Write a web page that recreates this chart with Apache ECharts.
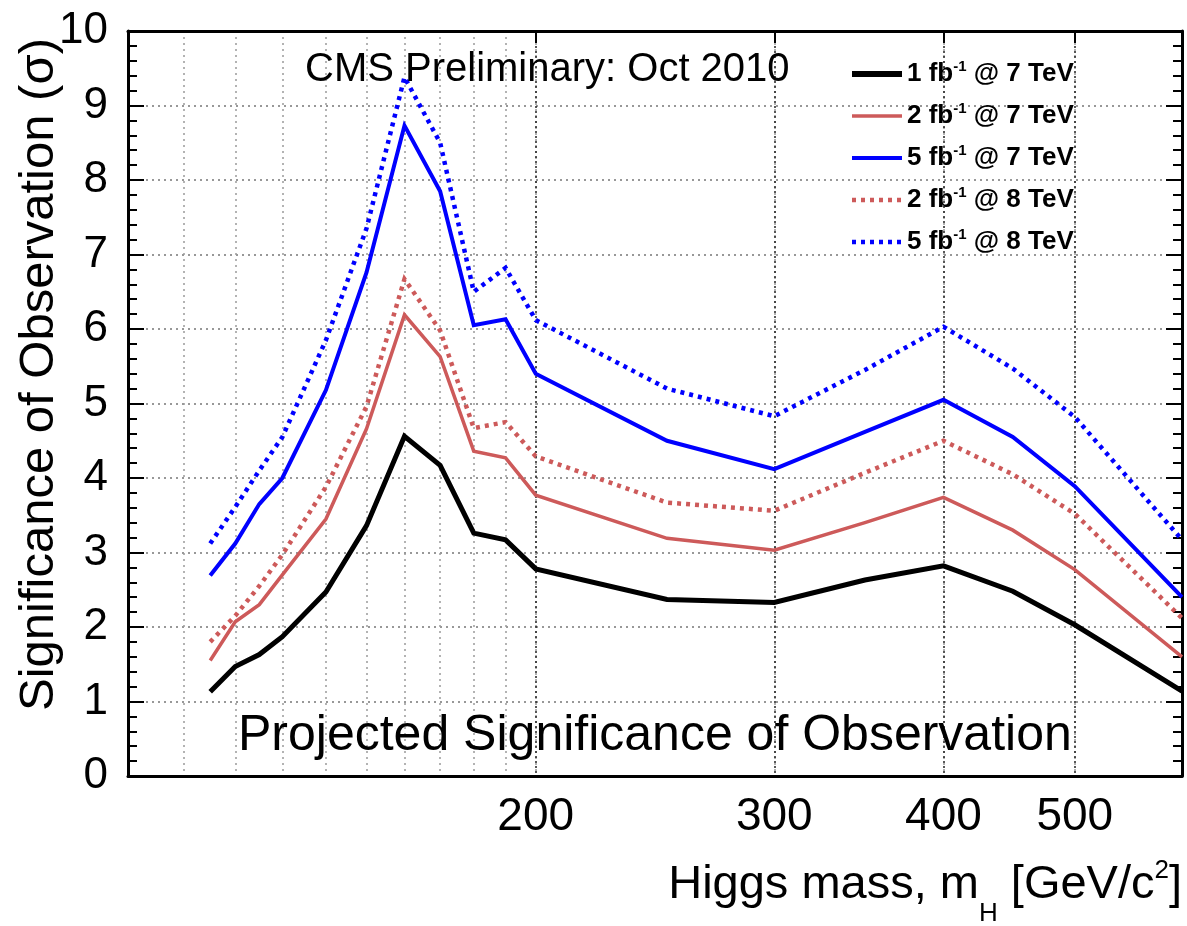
<!DOCTYPE html>
<html>
<head>
<meta charset="utf-8">
<script src="https://cdn.jsdelivr.net/npm/echarts@6/dist/echarts.min.js"></script>
<style>
  html, body { margin: 0; padding: 0; background: #fff; }
  #chart { width: 1187px; height: 926px; }
</style>
</head>
<body>
<div id="chart"></div>
<script>
// ---- Data ----
const masses = [115, 120, 125, 130, 140, 150, 160, 170, 180, 190, 200, 250, 300, 350, 400, 450, 500, 600];
const sig1fb7TeV = [1.13, 1.47, 1.63, 1.87, 2.47, 3.36, 4.56, 4.17, 3.26, 3.17, 2.78, 2.37, 2.33, 2.63, 2.82, 2.48, 2.03, 1.14];
const sig2fb7TeV = [1.55, 2.07, 2.30, 2.70, 3.45, 4.66, 6.19, 5.63, 4.36, 4.27, 3.77, 3.19, 3.03, 3.40, 3.74, 3.30, 2.77, 1.60];
const sig5fb7TeV = [2.69, 3.12, 3.65, 4.00, 5.18, 6.76, 8.73, 7.85, 6.05, 6.13, 5.40, 4.50, 4.12, 4.62, 5.05, 4.55, 3.89, 2.40];
const sig2fb8TeV = [1.80, 2.15, 2.55, 2.97, 3.88, 4.96, 6.67, 5.98, 4.67, 4.75, 4.29, 3.67, 3.56, 4.07, 4.50, 4.05, 3.52, 2.12];
const sig5fb8TeV = [3.12, 3.61, 4.10, 4.55, 5.85, 7.35, 9.38, 8.50, 6.50, 6.82, 6.12, 5.20, 4.83, 5.45, 6.03, 5.47, 4.82, 3.17];

const lumis = [1, 2, 5, 2, 5];
const energies = [7, 7, 7, 8, 8];
const seriesValues = [sig1fb7TeV, sig2fb7TeV, sig5fb7TeV, sig2fb8TeV, sig5fb8TeV];

const xGridValues = [110, 120, 130, 140, 150, 160, 170, 180, 190, 200, 300, 400, 500];
const xLabelValues = [200, 300, 400, 500];

// ---- Styles ----
const FONT = 'Liberation Sans';
const colors = ['#000000', '#cd5a5a', '#0000ff', '#cd5a5a', '#0000ff'];
const widths = [5, 3.5, 4, 4.5, 4.5];
const types = ['solid', 'solid', 'solid', [4, 5], [4, 5]];

const names = lumis.map((l, i) => l + ' fb-1 @ ' + energies[i] + ' TeV');

const series = seriesValues.map((vals, i) => ({
  name: names[i],
  type: 'line',
  xAxisIndex: 0,
  yAxisIndex: 0,
  symbol: 'none',
  showSymbol: false,
  smooth: false,
  animation: false,
  lineStyle: { color: colors[i], width: widths[i], type: types[i], cap: 'butt', join: 'miter' },
  itemStyle: { color: colors[i] },
  z: 10 - i,
  data: masses.map((m, k) => [m, vals[k]])
}));

const chart = echarts.init(document.getElementById('chart'), null, { renderer: 'canvas' });

const option = {
  backgroundColor: '#ffffff',
  animation: false,
  grid: { left: 128, right: 5, top: 31, bottom: 150, containLabel: false, outerBoundsMode: 'none' },
  legend: {
    orient: 'vertical',
    left: 849,
    top: 59,
    itemWidth: 50,
    itemHeight: 14,
    itemGap: 12,
    padding: 0,
    itemStyle: { opacity: 0 },
    data: names.map((n, i) => ({
      name: n,
      itemStyle: { opacity: 0 },
      lineStyle: { color: colors[i], width: i === 0 ? 6 : widths[i], type: types[i], cap: 'butt' }
    })),
    formatter: function (name) {
      const i = names.indexOf(name);
      return '{n|' + lumis[i] + ' fb}{s|-1}{n| @ ' + energies[i] + ' TeV}';
    },
    textStyle: {
      fontFamily: FONT, fontWeight: 'bold', fontSize: 26, color: '#000',
      rich: {
        n: { fontFamily: FONT, fontWeight: 'bold', fontSize: 26, lineHeight: 30, color: '#000' },
        s: { fontFamily: FONT, fontWeight: 'bold', fontSize: 15, lineHeight: 15, color: '#000', padding: [0, 0, 15, 0] }
      }
    }
  },
  xAxis: [
    {
      type: 'log', logBase: 10, min: 100, max: 600, position: 'bottom',
      axisLine: { show: true, onZero: false, lineStyle: { color: '#000', width: 3 } },
      axisTick: { show: false, customValues: xGridValues },
      axisLabel: { show: true, customValues: xLabelValues, fontFamily: FONT, fontSize: 46, color: '#000', margin: 18 },
      splitLine: { show: true, lineStyle: { color: '#9a9a9a', width: 1.5, type: [2, 4] } },
      name: '{a|Higgs mass, m}{sub|H}{a| [GeV/c}{sup|2}{a|]}',
      nameLocation: 'end',
      nameGap: 0,
      nameMoveOverlap: false,
      nameTextStyle: {
        align: 'right', verticalAlign: 'top', padding: [86, 0, 0, 0],
        fontFamily: FONT, fontSize: 47, color: '#000',
        rich: {
          a: { fontFamily: FONT, fontSize: 47, lineHeight: 47, color: '#000' },
          sub: { fontFamily: FONT, fontSize: 26, lineHeight: 26, color: '#000', padding: [56, 0, 0, 0] },
          sup: { fontFamily: FONT, fontSize: 26, lineHeight: 26, color: '#000', padding: [0, 0, 29, 0] }
        }
      }
    },
    {
      type: 'log', logBase: 10, min: 100, max: 600, position: 'top',
      axisLine: { show: true, onZero: false, lineStyle: { color: '#000', width: 3 } },
      axisTick: { show: true, inside: true, length: 12, customValues: xLabelValues, lineStyle: { color: '#000', width: 2 } },
      axisLabel: { show: false },
      splitLine: { show: true, lineStyle: { color: '#222', width: 1.5, type: [2, 3] } }
    }
  ],
  yAxis: [
    {
      type: 'value', min: 0, max: 10, interval: 1, position: 'left',
      axisLine: { show: true, onZero: false, lineStyle: { color: '#000', width: 3 } },
      axisTick: { show: true, inside: true, length: 16, lineStyle: { color: '#000', width: 2 } },
      minorTick: { show: true, splitNumber: 5, length: 9, lineStyle: { color: '#000', width: 2 } },
      axisLabel: { fontFamily: FONT, fontSize: 44, color: '#000', margin: 20 },
      splitLine: { show: true, lineStyle: { color: '#777', width: 1.5, type: [2, 4] } },
      name: 'Significance of Observation (σ)',
      nameLocation: 'middle',
      nameGap: 64,
      nameMoveOverlap: false,
      nameRotate: 90,
      nameTextStyle: { fontFamily: FONT, fontSize: 49, color: '#000', padding: [0, 0, 0, 58] }
    },
    {
      type: 'value', min: 0, max: 10, interval: 1, position: 'right',
      axisLine: { show: true, onZero: false, lineStyle: { color: '#000', width: 3 } },
      axisTick: { show: true, inside: true, length: 16, lineStyle: { color: '#000', width: 2 } },
      minorTick: { show: true, splitNumber: 5, length: 9, lineStyle: { color: '#000', width: 2 } },
      axisLabel: { show: false },
      splitLine: { show: false }
    }
  ],
  graphic: [
    {
      type: 'text', left: 305, top: 50, z: 100,
      style: { text: 'CMS Preliminary: Oct 2010', fontFamily: FONT, fontSize: 40, fill: '#000' }
    },
    {
      type: 'text', left: 238, top: 711, z: 100,
      style: { text: 'Projected Significance of Observation', fontFamily: FONT, fontSize: 50, fill: '#000' }
    }
  ],
  series: series
};

chart.setOption(option);
</script>
</body>
</html>
